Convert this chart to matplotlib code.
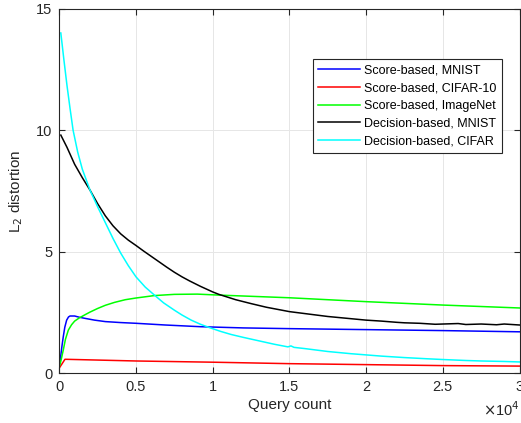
import matplotlib
matplotlib.use("Agg")
import matplotlib.pyplot as plt
import numpy as np

plt.rcParams['font.family'] = ['Liberation Sans', 'DejaVu Sans']

# query counts and L2 distortion
score_mnist_x = [0, 100, 180, 260, 360, 480, 600, 700, 1000, 1300, 1700, 2300, 3000, 4000, 5000,
                 6900, 9200, 12000, 15000, 20000, 25000, 30000]
score_mnist_y = [0.28, 0.75, 1.15, 1.51, 1.9, 2.19, 2.32, 2.36, 2.36, 2.31, 2.26, 2.19, 2.13, 2.09, 2.06,
                 1.99, 1.92, 1.87, 1.84, 1.80, 1.76, 1.71]

score_cifar_x = [0, 370, 5000, 10000, 15000, 20000, 25000, 30000]
score_cifar_y = [0.22, 0.58, 0.51, 0.46, 0.40, 0.36, 0.32, 0.30]

score_imagenet_x = [0, 100, 260, 400, 590, 800, 1000, 1300, 1700, 2000, 2500, 3000, 3600, 4300,
                    5000, 6200, 7500, 9000, 10400, 12500, 15000, 17500, 20000, 22500, 25000,
                    27500, 30000]
score_imagenet_y = [0.28, 0.5, 0.96, 1.4, 1.78, 2.0, 2.15, 2.28, 2.42, 2.52, 2.67, 2.8, 2.92, 3.03,
                    3.1, 3.2, 3.25, 3.26, 3.22, 3.17, 3.11, 3.03, 2.95, 2.88, 2.81,
                    2.75, 2.69]

dec_mnist_x = [100, 500, 1000, 1500, 2000, 2500, 3000, 3500, 4000, 4500, 5000, 5500, 6000, 6500,
               7000, 7500, 8000, 8500, 9200, 10000, 10400, 11000, 11500, 12500, 13500, 14500,
               15000, 16000, 17000, 17500, 18500, 19500, 20000, 21000, 22000, 22500, 23500,
               24500, 25000, 26000, 26500, 27500, 28500, 29000, 30000]
dec_mnist_y = [9.8, 9.3, 8.6, 8.05, 7.54, 6.98, 6.48, 6.07, 5.74, 5.48, 5.26, 5.03, 4.81, 4.59,
               4.37, 4.16, 3.97, 3.8, 3.58, 3.35, 3.25, 3.13, 3.03, 2.87, 2.72, 2.6,
               2.54, 2.46, 2.38, 2.34, 2.28, 2.22, 2.19, 2.15, 2.10, 2.08, 2.06,
               2.02, 2.03, 2.05, 2.01, 2.03, 2.00, 2.03, 1.99]

dec_cifar_x = [100, 300, 500, 700, 900, 1200, 1500, 2000, 2500, 3000, 3500, 4000, 4500, 5000,
               5600, 6200, 6800, 7500, 8000, 8600, 9200, 9800, 10500, 11200, 12000, 13000,
               14000, 14900, 15100, 15300, 16000, 17500, 19000, 20000, 21000, 22500, 24000,
               25000, 26500, 27500, 29000, 30000]
dec_cifar_y = [14.0, 12.9, 11.85, 10.9, 10.0, 9.1, 8.4, 7.54, 6.85, 6.2, 5.55, 4.95, 4.43, 3.97,
               3.55, 3.22, 2.9, 2.6, 2.4, 2.19, 2.02, 1.88, 1.73, 1.6, 1.48, 1.34,
               1.2, 1.09, 1.13, 1.07, 1.02, 0.9, 0.81, 0.76, 0.71, 0.65, 0.6,
               0.57, 0.53, 0.51, 0.49, 0.47]

fig = plt.figure(figsize=(5.21, 4.23), dpi=100)
ax = fig.add_axes([0.1138, 0.1173, 0.8834, 0.8622])

lw = 1.1
ax.plot(np.array(score_mnist_x) / 1e4, score_mnist_y, color=(0, 0, 1), lw=lw, label="Score-based, MNIST")
ax.plot(np.array(score_cifar_x) / 1e4, score_cifar_y, color=(1, 0, 0), lw=lw, label="Score-based, CIFAR-10")
ax.plot(np.array(score_imagenet_x) / 1e4, score_imagenet_y, color=(0, 1, 0), lw=lw, label="Score-based, ImageNet")
ax.plot(np.array(dec_mnist_x) / 1e4, dec_mnist_y, color="black", lw=lw, label="Decision-based, MNIST")
ax.plot(np.array(dec_cifar_x) / 1e4, dec_cifar_y, color=(0, 1, 1), lw=lw, label="Decision-based, CIFAR")

ax.set_xlim(0, 3)
ax.set_ylim(0, 15)
ax.set_xticks([0, 0.5, 1, 1.5, 2, 2.5, 3])
ax.set_xticklabels(["0", "0.5", "1", "1.5", "2", "2.5", "3"])
ax.set_yticks([0, 5, 10, 15])
ax.grid(True, color=(0.9, 0.9, 0.9), lw=0.7)
ax.set_axisbelow(True)

dark = (0.15, 0.15, 0.15)
for s in ax.spines.values():
    s.set_color(dark)
    s.set_linewidth(0.8)
ax.tick_params(direction="in", top=True, right=True, colors=dark, labelsize=10.5,
               length=4, width=0.8, pad=5)

ax.set_xlabel("Query count", fontsize=11, color=dark, labelpad=3)
ax.set_ylabel("L$_2$ distortion", fontsize=11, color=dark, labelpad=8)
ax.text(1.0, -0.075, r"$\times$10$^4$", transform=ax.transAxes, ha="right", va="top",
        fontsize=10.5, color=dark)

leg = ax.legend(loc="upper right", bbox_to_anchor=(0.962, 0.862), fontsize=9,
                frameon=True, fancybox=False, edgecolor=dark, framealpha=1,
                borderpad=0.45, labelspacing=0.45, handlelength=3.3, handletextpad=0.35,
                borderaxespad=0)
leg.get_frame().set_linewidth(0.8)

fig.savefig("out.png", dpi=100)
